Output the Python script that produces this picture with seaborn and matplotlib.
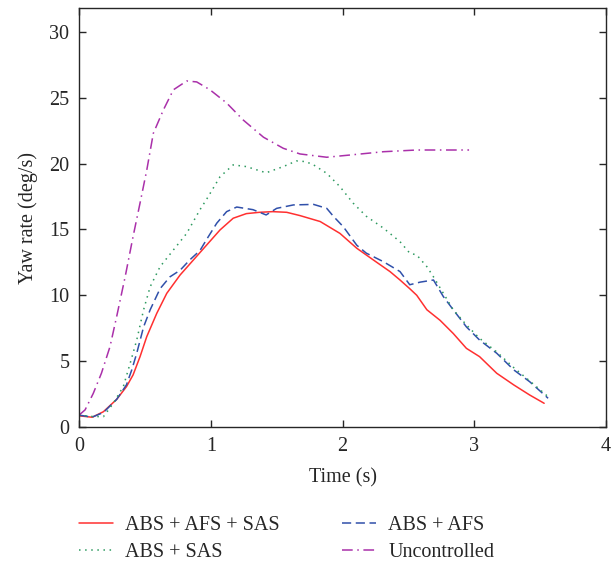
import pandas as pd
import seaborn as sns
import matplotlib.pyplot as plt

# Yaw rate responses
t_abs_afs_sas = [0.0, 0.1, 0.185, 0.286, 0.36, 0.41, 0.463, 0.514, 0.59, 0.666, 0.767,
                 0.868, 0.969, 1.07, 1.17, 1.27, 1.37, 1.47, 1.576, 1.677, 1.83, 1.98,
                 2.108, 2.234, 2.36, 2.436, 2.51, 2.563, 2.64, 2.74, 2.84, 2.94, 3.04,
                 3.17, 3.30, 3.42, 3.53]
y_abs_afs_sas = [0.85, 0.74, 1.16, 2.1, 3.06, 3.95, 5.34, 6.86, 8.63, 10.15, 11.54,
                 12.68, 13.82, 14.96, 15.85, 16.2, 16.3, 16.35, 16.3, 16.05, 15.6, 14.7,
                 13.57, 12.68, 11.8, 11.16, 10.5, 10.0, 8.9, 8.1, 7.1, 5.97, 5.34,
                 4.08, 3.19, 2.43, 1.8]

t_abs_afs = [0.0, 0.1, 0.185, 0.286, 0.36, 0.40, 0.438, 0.49, 0.54, 0.615, 0.69, 0.767,
             0.842, 0.918, 0.969, 1.045, 1.12, 1.197, 1.32, 1.42, 1.50, 1.627, 1.78,
             1.88, 1.93, 2.006, 2.108, 2.18, 2.31, 2.436, 2.51, 2.59, 2.69, 2.765, 2.84,
             2.94, 3.04, 3.17, 3.30, 3.42, 3.56]
y_abs_afs = [0.9, 0.75, 1.1, 2.1, 3.2, 4.33, 5.6, 7.6, 8.9, 10.5, 11.4, 11.9,
             12.7, 13.4, 14.25, 15.47, 16.35, 16.7, 16.5, 16.1, 16.6, 16.86, 16.9,
             16.6, 16.0, 15.2, 13.8, 13.2, 12.55, 11.8, 10.8, 11.0, 11.16, 9.9, 8.9,
             7.6, 6.6, 5.6, 4.33, 3.44, 2.18]

t_abs_sas = [0.0, 0.1, 0.185, 0.26, 0.336, 0.387, 0.438, 0.49, 0.54, 0.615, 0.716,
             0.817, 0.918, 0.969, 1.07, 1.17, 1.27, 1.42, 1.55, 1.65, 1.72, 1.78,
             1.88, 1.98, 2.08, 2.18, 2.31, 2.436, 2.51, 2.563, 2.64, 2.69, 2.765, 2.84,
             2.94, 3.04, 3.17, 3.30, 3.42, 3.56]
y_abs_sas = [0.9, 0.8, 0.78, 1.8, 3.06, 4.8, 6.6, 8.9, 10.65, 12.17, 13.44,
             14.7, 16.5, 17.3, 19.0, 19.9, 19.77, 19.3, 19.77, 20.2, 20.15, 19.9,
             19.26, 18.25, 17.0, 16.0, 15.1, 14.07, 13.2, 13.06, 12.17, 11.4, 10.15, 8.9,
             7.75, 6.73, 5.7, 4.5, 3.5, 2.3]

t_uncontrolled = [0.0, 0.046, 0.108, 0.17, 0.235, 0.286, 0.35, 0.41, 0.463, 0.514, 0.564,
                  0.64, 0.716, 0.817, 0.893, 0.994, 1.12, 1.247, 1.40, 1.55, 1.677,
                  1.88, 2.057, 2.31, 2.563, 2.96]
y_uncontrolled = [0.9, 1.3, 2.55, 4.08, 6.1, 8.4, 11.4, 14.45, 17.0, 19.5, 22.3,
                  24.07, 25.6, 26.27, 26.2, 25.6, 24.6, 23.3, 22.0, 21.16, 20.73,
                  20.48, 20.65, 20.9, 21.03, 21.03]

labels = ['ABS + AFS + SAS', 'ABS + AFS', 'ABS + SAS', 'Uncontrolled']
colors = ['#ff3030', '#3050aa', '#2e9a60', '#aa30aa']
styles = ['-', (0, (6, 3)), (0, (1, 3)), (0, (7, 3, 1, 3))]

sns.set_style('ticks')
plt.rcParams['font.family'] = ['Liberation Serif', 'DejaVu Serif']
plt.rcParams['xtick.direction'] = 'in'
plt.rcParams['ytick.direction'] = 'in'

series = [(t_abs_afs_sas, y_abs_afs_sas), (t_abs_afs, y_abs_afs),
          (t_abs_sas, y_abs_sas), (t_uncontrolled, y_uncontrolled)]

fig = plt.figure(figsize=(6.15, 5.66), dpi=100)
ax = fig.add_axes([0.1285, 0.2456, 0.857, 0.740])

lines = []
for (t, y), lab, col, ls in zip(series, labels, colors, styles):
    df = pd.DataFrame({'t': t, 'y': y})
    sns.lineplot(data=df, x='t', y='y', ax=ax, color=col, linewidth=1.1,
                 sort=False, estimator=None, label=lab)
    ln = ax.get_lines()[-1]
    ln.set_linestyle(ls)
    lines.append(ln)

ax.set_xlim(0, 4)
ax.set_ylim(0, 31.8)
ax.set_xticks([0, 1, 2, 3, 4])
ax.set_yticks([0, 5, 10, 15, 20, 25, 30])
ax.tick_params(top=True, right=True, labelsize=14.5, length=5, width=1, pad=7)
for sp in ax.spines.values():
    sp.set_linewidth(1)
ax.set_xlabel('Time (s)', fontsize=14.5, labelpad=9)
ax.set_ylabel('Yaw rate (deg/s)', fontsize=14.5, labelpad=8)

ax.get_legend().remove()
order = [0, 2, 1, 3]
fig.legend([lines[i] for i in order], [labels[i] for i in order],
           loc='upper left', bbox_to_anchor=(0.128, 0.088), ncol=2,
           frameon=False, fontsize=14.5, handlelength=1.7, handletextpad=0.6,
           columnspacing=3.1, labelspacing=0.4, borderaxespad=0, borderpad=0)

fig.savefig('out.png', dpi=100)
